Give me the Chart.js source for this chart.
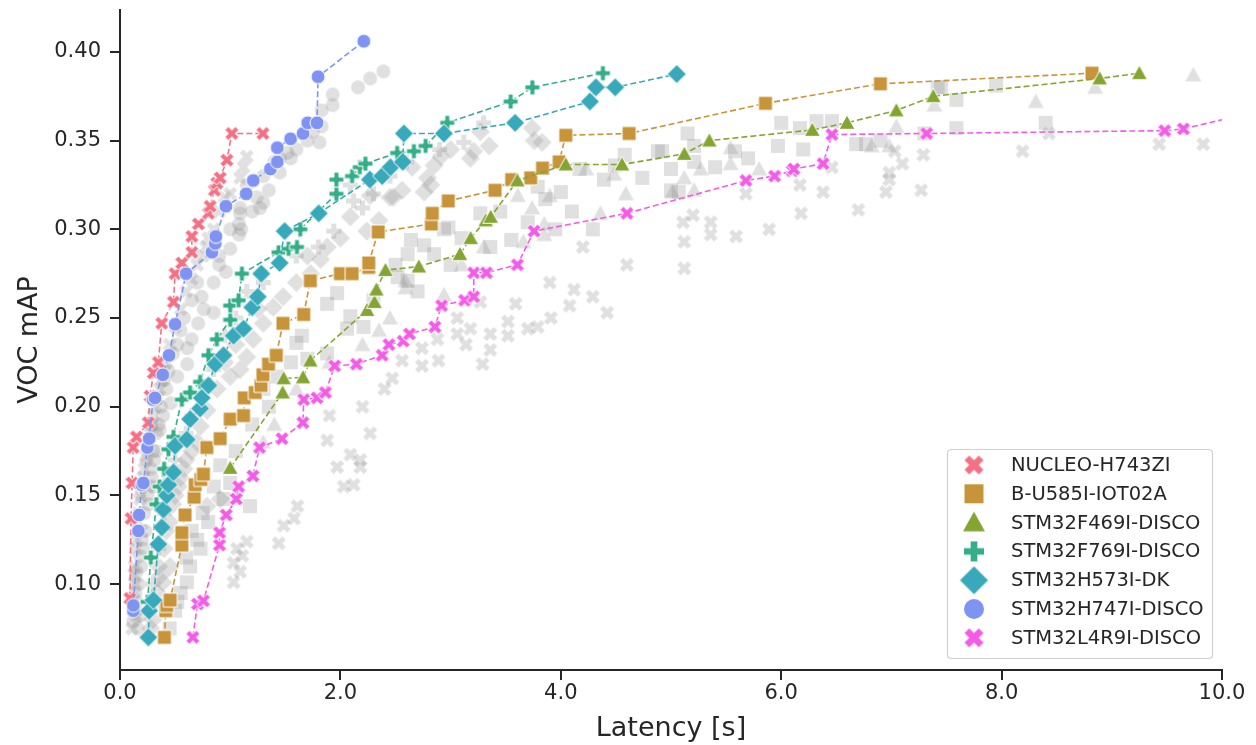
<!DOCTYPE html>
<html><head><meta charset="utf-8">
<script src="https://cdn.jsdelivr.net/npm/chart.js@4.4.0/dist/chart.umd.min.js"></script>
<style>html,body{margin:0;padding:0;background:#fff;}#wrap{width:1256px;height:745px;}</style>
</head><body><div id="wrap"><canvas id="c" width="1256" height="745" style="width:1256px;height:745px"></canvas></div>
<script>
// ---------- DATA ----------
const deviceNames = ['NUCLEO-H743ZI','B-U585I-IOT02A','STM32F469I-DISCO','STM32F769I-DISCO','STM32H573I-DK','STM32H747I-DISCO','STM32L4R9I-DISCO'];
const deviceColors = ['#f37184','#c8943a','#84a532','#34ae87','#38a9ba','#7f94f2','#f35ce6'];
const deviceShapes = ['X','square','triangle','plus','diamond','circle','X'];
const xTicks = [0,2,4,6,8,10];
const yTicks = [0.10,0.15,0.20,0.25,0.30,0.35,0.40];

// Pareto fronts [latency s, VOC mAP]
const frontNucleo = [[0.09,0.092],[0.10,0.137],[0.11,0.157],[0.12,0.177],[0.15,0.183],[0.257,0.191],[0.273,0.206],[0.303,0.219],[0.348,0.225],[0.379,0.247],[0.485,0.259],[0.50,0.275],[0.561,0.281],[0.652,0.287],[0.652,0.296],[0.712,0.303],[0.803,0.309],[0.818,0.313],[0.857,0.322],[0.879,0.326],[0.909,0.329],[0.970,0.339],[1.015,0.354],[1.297,0.354]];
const frontU585 = [[0.403,0.070],[0.415,0.085],[0.424,0.088],[0.455,0.091],[0.561,0.122],[0.561,0.129],[0.59,0.139],[0.673,0.149],[0.682,0.156],[0.733,0.159],[0.757,0.162],[0.788,0.177],[0.909,0.182],[1.0,0.193],[1.121,0.195],[1.127,0.205],[1.227,0.208],[1.279,0.212],[1.297,0.218],[1.348,0.224],[1.418,0.229],[1.479,0.247],[1.667,0.252],[1.727,0.271],[2.0,0.275],[2.106,0.275],[2.257,0.2785],[2.257,0.281],[2.343,0.2985],[2.825,0.303],[2.834,0.309],[2.979,0.316],[3.403,0.322],[3.554,0.328],[3.727,0.329],[3.834,0.3345],[3.985,0.338],[4.045,0.353],[4.62,0.354],[5.857,0.371],[6.90,0.382],[8.82,0.388]];
const frontF469 = [[1.0,0.1655],[1.476,0.208],[1.485,0.216],[1.661,0.2165],[1.727,0.226],[2.242,0.2545],[2.309,0.259],[2.327,0.266],[2.409,0.277],[2.712,0.279],[3.085,0.286],[3.182,0.295],[3.318,0.305],[3.364,0.307],[3.606,0.3275],[4.045,0.3365],[4.555,0.3365],[5.121,0.3425],[5.348,0.350],[6.282,0.356],[6.597,0.360],[7.045,0.367],[7.38,0.375],[8.89,0.385],[9.25,0.388]];
const frontF769 = [[0.25,0.09],[0.28,0.115],[0.33,0.145],[0.36,0.155],[0.40,0.165],[0.44,0.176],[0.485,0.183],[0.561,0.204],[0.636,0.208],[0.727,0.214],[0.803,0.229],[0.879,0.238],[1.0,0.249],[1.0,0.257],[1.076,0.260],[1.106,0.275],[1.439,0.287],[1.53,0.289],[1.606,0.290],[1.636,0.300],[1.964,0.320],[1.964,0.328],[2.106,0.330],[2.176,0.335],[2.227,0.337],[2.515,0.343],[2.667,0.344],[2.773,0.347],[2.97,0.360],[3.545,0.372],[3.742,0.380],[4.382,0.388]];
const frontH573 = [[0.257,0.070],[0.264,0.085],[0.303,0.091],[0.348,0.1225],[0.379,0.132],[0.394,0.142],[0.424,0.150],[0.439,0.156],[0.485,0.163],[0.50,0.178],[0.606,0.1815],[0.636,0.193],[0.727,0.199],[0.742,0.205],[0.803,0.212],[0.864,0.224],[0.939,0.229],[1.03,0.240],[1.121,0.244],[1.20,0.256],[1.25,0.262],[1.282,0.275],[1.448,0.281],[1.494,0.299],[1.803,0.309],[2.267,0.328],[2.379,0.330],[2.455,0.335],[2.566,0.338],[2.576,0.354],[2.939,0.354],[3.585,0.360],[4.264,0.372],[4.318,0.380],[4.494,0.380],[5.052,0.3875]];
const frontH747 = [[0.121,0.085],[0.121,0.088],[0.167,0.130],[0.173,0.139],[0.197,0.156],[0.212,0.157],[0.248,0.177],[0.264,0.182],[0.30,0.204],[0.318,0.205],[0.388,0.218],[0.445,0.229],[0.50,0.2465],[0.60,0.275],[0.834,0.287],[0.864,0.292],[0.87,0.296],[0.961,0.313],[1.145,0.320],[1.209,0.3275],[1.364,0.334],[1.427,0.338],[1.427,0.346],[1.548,0.351],[1.661,0.354],[1.703,0.360],[1.788,0.360],[1.797,0.386],[2.212,0.406]];
const frontL4R9 = [[0.661,0.070],[0.703,0.0888],[0.757,0.0906],[0.903,0.122],[0.903,0.129],[0.964,0.139],[1.055,0.148],[1.076,0.155],[1.206,0.161],[1.266,0.177],[1.47,0.182],[1.66,0.191],[1.667,0.204],[1.788,0.205],[1.864,0.208],[1.948,0.223],[2.145,0.224],[2.379,0.229],[2.44,0.235],[2.57,0.237],[2.627,0.241],[2.857,0.245],[2.918,0.257],[3.127,0.260],[3.21,0.262],[3.21,0.2755],[3.325,0.2755],[3.606,0.280],[3.757,0.299],[4.6,0.309],[5.68,0.3275],[5.94,0.330],[6.1,0.333],[6.115,0.334],[6.38,0.337],[6.46,0.3534],[7.32,0.354],[9.48,0.3556],[9.65,0.3566],[10.9,0.375]];

// Dominated (non-front) configurations, shown in grey
const otherNucleo = [[1.15,0.341],[1.12,0.335],[1.09,0.329],[1.0,0.320],[0.95,0.318],[0.90,0.310],[0.85,0.300],[0.78,0.290],[0.70,0.280],[0.65,0.272],[0.60,0.265],[0.55,0.255],[0.50,0.245],[0.45,0.235],[0.42,0.225],[0.38,0.215],[0.34,0.205],[0.30,0.195],[0.27,0.185],[0.24,0.172],[0.21,0.160],[0.18,0.148],[0.16,0.135],[0.14,0.120],[0.13,0.105],[0.12,0.092],[0.15,0.082],[0.11,0.075],[0.20,0.130],[0.25,0.155],[0.13,0.11],[0.15,0.125],[0.17,0.14],[0.19,0.15],[0.22,0.165],[0.26,0.18],[0.29,0.19],[0.32,0.20],[0.36,0.21],[0.40,0.22],[0.12,0.085],[0.14,0.10],[0.8,0.295],[0.75,0.285]];
const otherU585 = [[7.45,0.380],[7.59,0.373],[7.59,0.357],[7.95,0.381],[7.42,0.380],[6.32,0.361],[6.46,0.361],[6.17,0.357],[5.97,0.347],[6.68,0.348],[6.77,0.348],[5.15,0.354],[5.21,0.347],[5.58,0.344],[5.70,0.340],[5.21,0.338],[5.0,0.334],[4.92,0.344],[5.0,0.322],[5.07,0.321],[4.58,0.342],[4.74,0.329],[4.88,0.344],[4.49,0.336],[4.39,0.328],[4.17,0.334],[4.0,0.321],[3.86,0.317],[3.79,0.324],[4.29,0.300],[3.95,0.300],[3.70,0.304],[3.55,0.294],[3.36,0.290],[3.27,0.309],[2.98,0.301],[2.94,0.300],[2.64,0.294],[2.76,0.291],[2.61,0.286],[2.85,0.286],[2.52,0.273],[2.61,0.271],[1.88,0.258],[1.97,0.264],[2.09,0.251],[2.21,0.245],[2.06,0.244],[1.65,0.240],[1.60,0.236],[1.70,0.227],[1.55,0.225],[1.42,0.217],[1.30,0.210],[1.88,0.230],[0.91,0.167],[1.0,0.157],[1.18,0.144],[0.94,0.148],[0.73,0.120],[0.70,0.125],[0.636,0.110],[0.606,0.101],[0.55,0.095],[0.50,0.085],[0.80,0.135],[1.05,0.175],[1.2,0.19],[2.3,0.26],[2.5,0.28],[3.1,0.295],[3.45,0.31],[4.1,0.31],[6.9,0.350],[7.3,0.354],[8.4,0.36],[6.0,0.36],[6.2,0.345],[5.4,0.335],[3.0,0.28],[2.7,0.265],[1.35,0.20],[0.6,0.115],[0.65,0.13],[0.75,0.14],[0.85,0.155],[0.45,0.075],[0.52,0.09]];
const otherF469 = [[9.74,0.387],[8.31,0.372],[7.39,0.370],[7.045,0.358],[6.98,0.347],[6.82,0.347],[5.54,0.346],[5.54,0.337],[5.27,0.334],[5.80,0.334],[5.12,0.329],[5.01,0.321],[5.21,0.322],[4.23,0.334],[4.485,0.331],[4.59,0.320],[4.36,0.309],[3.90,0.319],[3.61,0.319],[3.74,0.312],[3.85,0.303],[3.85,0.297],[3.66,0.293],[2.59,0.271],[2.59,0.267],[2.94,0.263],[2.35,0.243],[2.45,0.25],[2.2,0.235],[1.9,0.225],[1.6,0.21],[1.4,0.19],[1.3,0.18],[3.1,0.28],[3.3,0.29],[8.85,0.38]];
const otherF769 = [[3.12,0.349],[2.09,0.325],[2.12,0.316],[2.20,0.312],[2.30,0.320],[1.94,0.299],[1.15,0.265],[0.85,0.221],[0.73,0.206],[1.8,0.29],[1.6,0.285],[1.3,0.27],[1.05,0.25],[0.95,0.24],[0.65,0.195],[0.6,0.185],[0.5,0.17],[0.45,0.16],[0.4,0.14],[0.35,0.12],[0.3,0.10],[2.45,0.33],[2.6,0.338],[2.9,0.345],[3.3,0.36]];
const otherH573 = [[3.74,0.357],[3.83,0.349],[3.76,0.350],[3.27,0.355],[3.35,0.347],[3.21,0.344],[3.18,0.340],[2.91,0.341],[2.85,0.336],[2.79,0.329],[2.82,0.325],[2.56,0.322],[2.76,0.321],[2.48,0.318],[2.09,0.307],[2.24,0.299],[2.45,0.318],[2.27,0.319],[1.88,0.290],[1.82,0.283],[1.73,0.275],[1.48,0.262],[1.39,0.256],[1.30,0.247],[1.21,0.238],[1.15,0.228],[1.09,0.221],[1.0,0.217],[0.88,0.210],[0.79,0.198],[0.73,0.189],[0.91,0.148],[0.79,0.144],[0.455,0.110],[0.39,0.101],[0.60,0.170],[0.55,0.160],[0.50,0.150],[0.45,0.135],[0.40,0.120],[0.34,0.095],[0.30,0.080],[2.0,0.295],[1.6,0.270],[1.05,0.235],[0.95,0.225],[1.25,0.255],[1.7,0.285],[2.65,0.335],[3.0,0.345],[2.35,0.305],[0.35,0.11],[0.42,0.13],[0.48,0.145],[0.53,0.155],[0.58,0.165],[0.65,0.175],[0.7,0.18],[0.32,0.09],[0.37,0.105],[0.28,0.075]];
const otherH747 = [[2.16,0.380],[2.27,0.385],[2.39,0.389],[1.93,0.376],[1.93,0.370],[1.83,0.367],[1.83,0.358],[1.81,0.349],[1.75,0.355],[1.52,0.343],[1.55,0.340],[1.45,0.332],[1.35,0.322],[1.27,0.312],[1.09,0.312],[1.09,0.309],[1.24,0.318],[1.08,0.303],[1.08,0.297],[1.0,0.289],[0.96,0.276],[0.85,0.270],[0.74,0.262],[0.65,0.260],[0.76,0.255],[0.85,0.253],[0.71,0.247],[0.65,0.238],[0.55,0.243],[0.61,0.233],[0.61,0.224],[0.52,0.217],[0.42,0.210],[0.46,0.202],[0.39,0.195],[0.36,0.187],[0.30,0.175],[0.28,0.165],[0.25,0.150],[0.22,0.140],[0.18,0.116],[0.15,0.107],[0.12,0.079],[0.18,0.082],[0.14,0.095],[0.20,0.125],[0.33,0.185],[0.40,0.215],[0.52,0.235],[0.58,0.250],[0.70,0.270],[0.90,0.285],[1.15,0.325],[1.40,0.338],[0.28,0.19],[0.24,0.17],[0.15,0.09],[0.17,0.10],[0.19,0.11],[0.21,0.12],[0.23,0.13],[0.26,0.145],[0.29,0.16],[0.31,0.17],[0.33,0.175],[0.35,0.19],[0.37,0.20],[0.44,0.22],[0.48,0.23],[0.14,0.085],[0.16,0.075],[0.3,0.155],[1.2,0.31],[1.3,0.33],[1.45,0.34],[1.3,0.315],[1.1,0.30],[1.6,0.345],[1.7,0.35],[1.0,0.30],[0.9,0.28]];
const otherL4R9 = [[8.19,0.344],[8.43,0.354],[9.43,0.348],[9.83,0.348],[7.03,0.344],[7.10,0.337],[7.29,0.342],[6.98,0.332],[6.98,0.328],[6.95,0.321],[7.27,0.322],[6.70,0.311],[6.46,0.335],[6.38,0.321],[6.18,0.309],[6.17,0.325],[5.89,0.300],[5.68,0.320],[5.59,0.296],[5.36,0.304],[5.36,0.297],[5.11,0.304],[5.20,0.308],[5.12,0.293],[5.12,0.278],[4.42,0.253],[4.29,0.262],[4.08,0.257],[3.91,0.250],[3.79,0.245],[3.70,0.244],[3.52,0.248],[3.52,0.240],[3.36,0.241],[3.36,0.232],[3.29,0.224],[3.14,0.235],[3.18,0.244],[3.06,0.241],[2.88,0.238],[2.89,0.226],[2.74,0.233],[2.74,0.223],[2.56,0.226],[3.27,0.259],[3.06,0.250],[2.47,0.216],[4.12,0.266],[3.59,0.258],[1.88,0.181],[2.27,0.185],[2.09,0.173],[2.18,0.170],[1.97,0.166],[2.18,0.166],[2.03,0.155],[2.12,0.156],[1.61,0.144],[1.58,0.137],[1.485,0.133],[1.44,0.123],[1.15,0.124],[1.06,0.120],[1.11,0.116],[1.03,0.112],[1.09,0.107],[1.03,0.101],[2.2,0.2],[2.4,0.21],[1.9,0.195],[4.2,0.29],[4.6,0.28],[3.9,0.27]];

const fronts = [frontNucleo, frontU585, frontF469, frontF769, frontH573, frontH747, frontL4R9];
const others = [otherNucleo, otherU585, otherF469, otherF769, otherH573, otherH747, otherL4R9];

// ---------- MARKERS ----------
function markerCanvas(shape, size, fill, edge, lw) {
  const pad = 2;
  const s = Math.ceil(size * (shape === 'diamond' ? 1.3 : 1) + pad * 2);
  const c = document.createElement('canvas');
  c.width = s; c.height = s;
  const g = c.getContext('2d');
  g.translate(s / 2, s / 2);
  const r = size / 2;
  g.beginPath();
  if (shape === 'circle') {
    g.arc(0, 0, r, 0, Math.PI * 2);
  } else if (shape === 'square') {
    g.rect(-r, -r, size, size);
  } else if (shape === 'triangle') {
    g.moveTo(0, -r); g.lineTo(r, r * 0.8); g.lineTo(-r, r * 0.8); g.closePath();
  } else if (shape === 'diamond') {
    const d = r * 1.27;
    g.moveTo(0, -d); g.lineTo(d, 0); g.lineTo(0, d); g.lineTo(-d, 0); g.closePath();
  } else if (shape === 'plus' || shape === 'X') {
    let a, t;
    if (shape === 'plus') { a = r; t = r / 3; }
    else { a = r * Math.SQRT2 * 0.75; t = a / 3; }
    const pts = [[t,-a],[t,-t],[a,-t],[a,t],[t,t],[t,a],[-t,a],[-t,t],[-a,t],[-a,-t],[-t,-t],[-t,-a]];
    const rot = shape === 'X' ? Math.PI / 4 : 0;
    pts.forEach((p, i) => {
      const x = p[0] * Math.cos(rot) - p[1] * Math.sin(rot);
      const y = p[0] * Math.sin(rot) + p[1] * Math.cos(rot);
      if (i === 0) g.moveTo(x, y); else g.lineTo(x, y);
    });
    g.closePath();
  }
  g.fillStyle = fill;
  g.fill();
  if (edge) { g.lineWidth = lw; g.strokeStyle = edge; g.lineJoin = 'miter'; g.stroke(); }
  return c;
}
const plotSize = {X: 14, square: 14, triangle: 16, plus: 15, diamond: 15, circle: 14};
const legendSize = {X: 19, square: 19, triangle: 22, plus: 20, diamond: 22, circle: 20};
const GREY = 'rgba(140,140,140,0.27)';

// ---------- DATASETS ----------
const toXY = arr => arr.map(p => ({x: p[0], y: p[1]}));
const datasets = [];
deviceNames.forEach((name, i) => {
  datasets.push({
    label: name + ' (other)',
    data: toXY(others[i]),
    showLine: false,
    pointStyle: markerCanvas(deviceShapes[i], plotSize[deviceShapes[i]], GREY, null, 0),
    pointRadius: 6, pointHoverRadius: 6,
    order: 100 + i
  });
});
deviceNames.forEach((name, i) => {
  datasets.push({
    label: name,
    data: toXY(fronts[i]),
    showLine: true,
    borderColor: deviceColors[i],
    borderWidth: 1.6,
    borderDash: [6, 3],
    pointStyle: markerCanvas(deviceShapes[i], plotSize[deviceShapes[i]], deviceColors[i], '#ffffff', 1),
    pointRadius: 6, pointHoverRadius: 6,
    order: 10 - i
  });
});

// ---------- LEGEND PLUGIN ----------
const legendPlugin = {
  id: 'boxLegend',
  afterDraw(chart) {
    const ctx = chart.ctx;
    ctx.save();
    const bx = 947.5, by = 449.5, bw = 265, bh = 209, rr = 4;
    ctx.beginPath();
    ctx.moveTo(bx + rr, by); ctx.lineTo(bx + bw - rr, by); ctx.quadraticCurveTo(bx + bw, by, bx + bw, by + rr);
    ctx.lineTo(bx + bw, by + bh - rr); ctx.quadraticCurveTo(bx + bw, by + bh, bx + bw - rr, by + bh);
    ctx.lineTo(bx + rr, by + bh); ctx.quadraticCurveTo(bx, by + bh, bx, by + bh - rr);
    ctx.lineTo(bx, by + rr); ctx.quadraticCurveTo(bx, by, bx + rr, by);
    ctx.fillStyle = 'rgba(255,255,255,0.85)'; ctx.fill();
    ctx.strokeStyle = '#d0d0d0'; ctx.lineWidth = 1.2; ctx.stroke();
    ctx.font = '19.5px "DejaVu Sans"';
    ctx.fillStyle = '#262626';
    ctx.textBaseline = 'middle';
    ctx.textAlign = 'left';
    deviceNames.forEach((name, i) => {
      const y = 465 + i * 28.8;
      const m = markerCanvas(deviceShapes[i], legendSize[deviceShapes[i]], deviceColors[i], null, 0);
      ctx.drawImage(m, 974 - m.width / 2, y - m.height / 2);
      ctx.fillText(name, 1011, y + 1);
    });
    ctx.restore();
  }
};

// ---------- CHART ----------
Chart.defaults.font.family = '"DejaVu Sans", sans-serif';
Chart.defaults.color = '#262626';
const axisColor = '#262626';
new Chart(document.getElementById('c'), {
  type: 'scatter',
  data: {datasets},
  options: {
    responsive: false,
    animation: false,
    events: [],
    layout: {padding: {top: 10, right: 34, left: 0, bottom: 0}},
    plugins: {legend: {display: false}, tooltip: {enabled: false}},
    scales: {
      x: {
        type: 'linear', min: 0, max: 10,
        afterBuildTicks: s => { s.ticks = xTicks.map(v => ({value: v})); },
        afterFit: s => { s.height = 75; s.paddingLeft = 0; s.paddingRight = 0; },
        ticks: {callback: v => Number(v).toFixed(1), font: {size: 21}, color: axisColor, padding: 1, maxRotation: 0, autoSkip: false},
        grid: {drawOnChartArea: false, drawTicks: true, tickLength: 10, color: axisColor, lineWidth: 2},
        border: {display: true, color: axisColor, width: 2},
        title: {display: true, text: 'Latency [s]', font: {size: 27}, color: axisColor, padding: {top: 0, bottom: 0}}
      },
      y: {
        type: 'linear', min: 0.0516, max: 0.4236,
        afterBuildTicks: s => { s.ticks = yTicks.map(v => ({value: v})); },
        afterFit: s => { s.width = 120; s.paddingTop = 0; s.paddingBottom = 0; },
        ticks: {callback: v => Number(v).toFixed(2), font: {size: 21}, color: axisColor, padding: 9, autoSkip: false},
        grid: {drawOnChartArea: false, drawTicks: true, tickLength: 10, color: axisColor, lineWidth: 2},
        border: {display: true, color: axisColor, width: 2},
        title: {display: true, text: 'VOC mAP', font: {size: 27}, color: axisColor, padding: {top: 14, bottom: 0}}
      }
    }
  },
  plugins: [legendPlugin]
});
</script>
</body></html>
